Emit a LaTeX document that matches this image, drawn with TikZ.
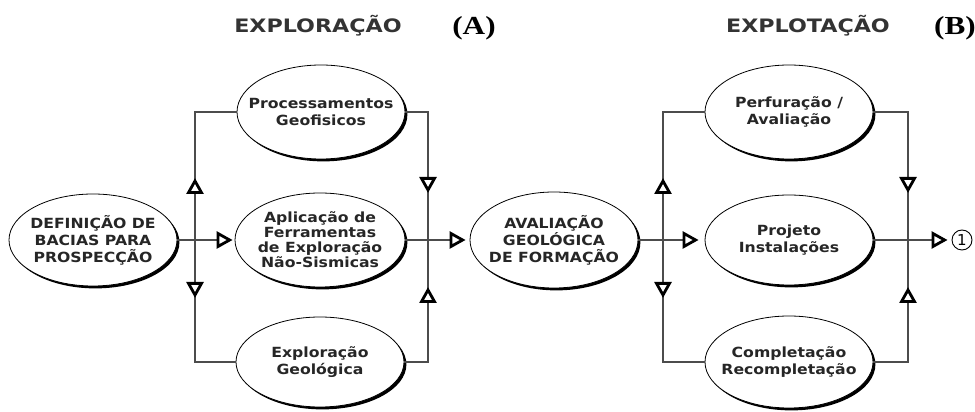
\documentclass[tikz,border=0pt]{standalone}
\usepackage{fontspec}
\setmainfont{DejaVu Sans}
\newfontfamily\lblfont[FakeStretch=1.12]{DejaVu Sans}
\newfontfamily\titfont[FakeStretch=1.2]{DejaVu Sans}
\newfontfamily\letfont[FakeStretch=1.2]{Liberation Serif}
\usetikzlibrary{arrows.meta,shapes.geometric,shadows,decorations.markings}

\tikzset{
  ponta/.tip={Triangle[length=16pt, width=17pt, line width=2.8pt, fill=white, color=black]},
}

\begin{document}
\begin{tikzpicture}[x=1pt, y=1pt,
    etapa/.style={ellipse, draw, line width=0.8pt, fill=white,
      minimum width=168pt, minimum height=92pt, inner xsep=-16pt, inner ysep=0pt,
      align=center, text=black!85, font=\lblfont\bfseries\fontsize{14}{17}\selectfont,
      drop shadow={shadow xshift=2.4pt, shadow yshift=-2.4pt, fill=black, opacity=1}},
    liga/.style={draw=black!70, line width=1.1pt},
    marca/.style={postaction={decorate, decoration={markings,
      mark=at position #1 with {\arrow{ponta}}}}},
    titulo/.style={font=\titfont\bfseries\fontsize{18.5}{22}\selectfont, text=black!80},
    letra/.style={font=\letfont\bfseries\fontsize{26}{28}\selectfont}]
    \useasboundingbox (0,0) rectangle (975,412);

    % titulos
    \node[titulo] (tA) at (318,386) {EXPLORAÇÃO};
    \node[letra] (lA) at (474,384) {(A)};
    \node[titulo] (tB) at (808,386) {EXPLOTAÇÃO};
    \node[letra] (lB) at (955,384) {(B)};

    % exploracao
    \node[etapa] (def) at (93,172) {DEFINIÇÃO DE\\BACIAS PARA\\PROSPECÇÃO};
    \node[etapa, minimum height=94pt] (proc) at (321,300) {Processamentos\\Geofisicos};
    \node[etapa, minimum width=170pt, minimum height=94pt,
      font=\lblfont\bfseries\fontsize{14}{15}\selectfont] (apl) at (320,172)
      {Aplicação de\\Ferramentas\\de Exploração\\Não-Sismicas};
    \node[etapa, minimum height=90pt] (expg) at (320,50) {Exploração\\Geológica};
    \node[etapa, minimum height=96pt] (aval) at (554,172) {AVALIAÇÃO\\GEOLÓGICA\\DE FORMAÇÃO};

    % explotacao
    \node[etapa, minimum height=94pt] (perf) at (789,300) {Perfuração /\\Avaliação};
    \node[etapa, minimum height=90pt] (proj) at (789,172) {Projeto\\Instalações};
    \node[etapa] (comp) at (789,50) {Completação\\Recompletação};
    \node[circle, draw, line width=0.9pt, inner sep=0pt, minimum size=20pt,
      font=\fontsize{15}{15}\selectfont] (um) at (962,172) {1};

    \coordinate (jl1) at (195,172);
    \coordinate (jr1) at (428,172);
    \coordinate (jl2) at (663,172);
    \coordinate (jr2) at (908,172);

    \draw[liga, -ponta, shorten >=2pt] (def) -- (apl);
    \draw[liga, marca=62pt] (jl1) |- (proc);
    \draw[liga, marca=58pt] (jl1) |- (expg);
    \draw[liga, marca=-47pt] (proc) -| (jr1);
    \draw[liga, marca=-47pt] (expg) -| (jr1);
    \draw[liga, -ponta, shorten >=4pt] (apl) -- (aval);

    \draw[liga, -ponta, shorten >=6pt] (aval) -- (proj);
    \draw[liga, marca=62pt] (jl2) |- (perf);
    \draw[liga, marca=58pt] (jl2) |- (comp);
    \draw[liga, marca=-47pt] (perf) -| (jr2);
    \draw[liga, marca=-47pt] (comp) -| (jr2);
    \draw[liga, -ponta, shorten >=4pt] (proj) -- (um);
\end{tikzpicture}
\end{document}
